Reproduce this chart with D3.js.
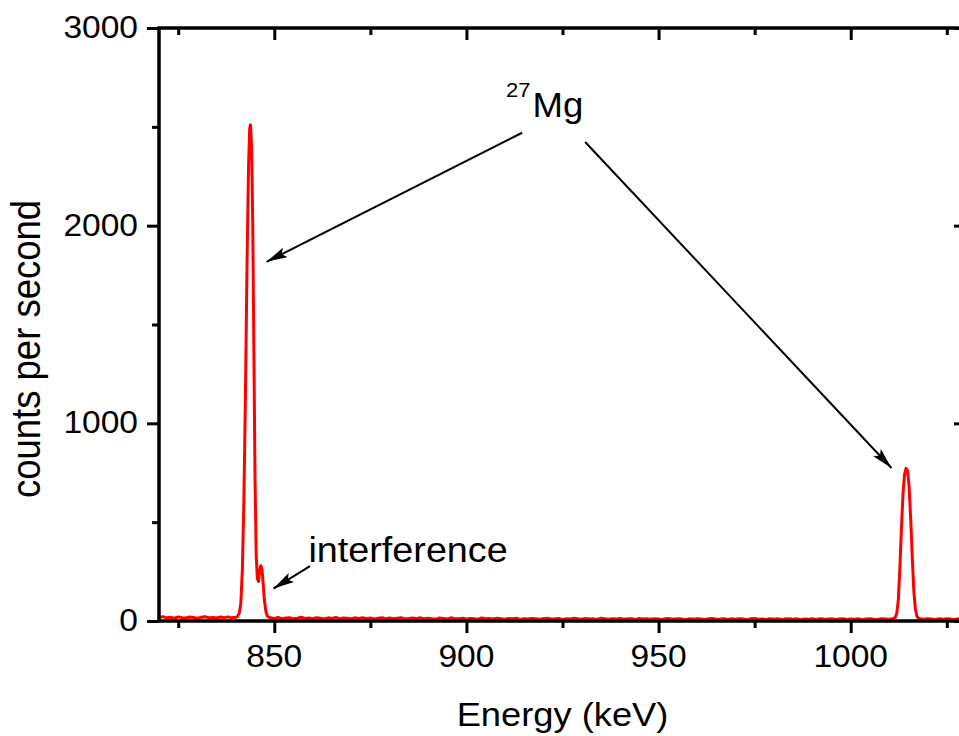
<!DOCTYPE html>
<html>
<head>
<meta charset="utf-8">
<script src="https://cdn.jsdelivr.net/npm/d3@7"></script>
<style>
  body { margin: 0; background: #fff; }
  svg { display: block; font-family: "Liberation Sans", Arial, sans-serif; }
</style>
</head>
<body>
<svg></svg>
<script>
// gamma spectrum (keV, counts per second)
let energyKeV = [
  820, 821, 822, 823, 824, 825, 826, 827, 828, 829,
  830, 831, 832, 833, 834, 835, 836, 837, 838, 839, 840,
  840.4, 840.9, 841.3, 841.7, 842.1, 842.5, 842.9, 843.3, 843.6, 843.8,
  844.1, 844.4, 844.7, 845.0, 845.3, 845.6, 845.9, 846.2, 846.5, 846.8,
  847.1, 847.4, 847.8, 848.2,
  849, 850, 851, 852, 853, 854, 855, 856, 857, 858,
  859, 860, 861, 862, 863, 864, 865, 866, 867, 868,
  869, 870, 871, 872, 873, 874, 875, 876, 877, 878,
  879, 880, 881, 882, 883, 884, 885, 886, 887, 888,
  889, 890, 891, 892, 893, 894, 895, 896, 897, 898,
  899, 900, 901, 902, 903, 904, 905, 906, 907, 908,
  909, 910, 911, 912, 913, 914, 915, 916, 917, 918,
  919, 920, 921, 922, 923, 924, 925, 926, 927, 928,
  929, 930, 931, 932, 933, 934, 935, 936, 937, 938,
  939, 940, 941, 942, 943, 944, 945, 946, 947, 948,
  949, 950, 951, 952, 953, 954, 955, 956, 957, 958,
  959, 960, 961, 962, 963, 964, 965, 966, 967, 968,
  969, 970, 971, 972, 973, 974, 975, 976, 977, 978,
  979, 980, 981, 982, 983, 984, 985, 986, 987, 988,
  989, 990, 991, 992, 993, 994, 995, 996, 997, 998,
  999, 1000, 1001, 1002, 1003, 1004, 1005, 1006, 1007, 1008,
  1009, 1010, 1011,
  1011.6, 1012.0, 1012.4, 1012.8, 1013.2, 1013.6, 1014.0, 1014.4,
  1014.8, 1015.2, 1015.6, 1016.0, 1016.4, 1016.8, 1017.2, 1017.6,
  1018, 1019, 1020, 1021, 1022, 1023, 1024, 1025, 1026, 1027, 1028, 1029, 1030
];
let countsPerSecond = [
  18, 22, 16, 19, 14, 21, 17, 15, 20, 18,
  13, 19, 22, 16, 18, 15, 20, 17, 21, 16, 19,
  22, 40, 90, 260, 620, 1150, 1800, 2300, 2490, 2510,
  2400, 2000, 1350, 700, 330, 215, 200, 255, 280, 262,
  190, 110, 50, 24,
  16, 13, 18, 12, 15, 17, 11, 14, 19, 13,
  15, 12, 17, 14, 10, 16, 13, 18, 12, 15,
  14, 11, 16, 13, 17, 12, 15, 10, 14, 16,
  12, 15, 11, 14, 17, 10, 13, 15, 12, 16,
  11, 14, 12, 9, 15, 13, 10, 16, 12, 11,
  14, 10, 13, 12, 9, 15, 11, 13, 10, 14,
  12, 9, 13, 11, 14, 8, 12, 10, 13, 11,
  9, 12, 14, 10, 11, 13, 8, 12, 10, 14,
  11, 9, 13, 10, 12, 8, 14, 11, 9, 12,
  10, 13, 9, 11, 12, 8, 13, 10, 11, 9,
  12, 10, 8, 13, 11, 9, 12, 10, 7, 11,
  9, 12, 10, 8, 11, 13, 9, 10, 12, 8,
  11, 9, 12, 10, 7, 11, 13, 9, 10, 8,
  12, 9, 11, 8, 10, 12, 9, 11, 7, 10,
  9, 11, 8, 12, 10, 9, 11, 8, 10, 12,
  8, 10, 9, 11, 7, 10, 12, 9, 8, 11,
  10, 9, 12,
  18, 40, 110, 270, 470, 640, 740, 772,
  760, 680, 520, 330, 160, 65, 25, 14,
  11, 9, 12, 10, 8, 11, 9, 12, 10, 8, 11, 9, 10
];

let xMajorTicks = [850, 900, 950, 1000];
let xMinorTicks = [825, 875, 925, 975, 1025];
let yMajorTicks = [0, 1000, 2000, 3000];
let yMinorTicks = [500, 1500, 2500];

// annotation arrows, in data units: [keV, counts]
let arrowTails = [[914.5, 2470], [930.9, 2423], [859.3, 278]];
let arrowTips = [[848.0, 1817], [1010.6, 774], [849.8, 164]];

let width = 959;
let height = 736;
let plotLeft = 159;
let plotRight = 966; // right frame sits just past the picture edge
let plotTop = 28;
let plotBottom = 621;
let stretch = 1.1;

let svg = d3.select("svg").attr("width", width).attr("height", height);

let xScale = d3.scaleLinear().domain([820, 1030]).range([plotLeft, plotRight]);
let yScale = d3.scaleLinear().domain([0, 3000]).range([plotBottom, plotTop]);

let putText = (g, x, y, txt, size, anchor, sx = stretch) =>
  g.append("text")
    .attr("transform", "translate(" + x + "," + y + ") scale(" + sx + ",1)")
    .attr("text-anchor", anchor)
    .attr("font-size", size)
    .attr("fill", "#000")
    .text(txt);

let styleAxis = (g, w) => {
  g.select(".domain").remove();
  g.selectAll("line").attr("stroke", "#000").attr("stroke-width", w);
  g.selectAll("text").remove();
};

let drawAxes = () => {
  let frames = [
    [d3.axisBottom(xScale), "translate(0," + plotBottom + ")", xMajorTicks, xMinorTicks, 12, 7],
    [d3.axisTop(xScale), "translate(0," + plotTop + ")", xMajorTicks, xMinorTicks, -12, -7],
    [d3.axisLeft(yScale), "translate(" + plotLeft + ",0)", yMajorTicks, yMinorTicks, 12, 7],
    [d3.axisRight(yScale), "translate(" + plotRight + ",0)", yMajorTicks, yMinorTicks, -12, -7],
  ];
  frames.forEach(([axis, tr, major, minor, big, small]) => {
    svg.append("g").attr("transform", tr)
      .call(axis.tickValues(major).tickSize(big).tickFormat(""))
      .call((g) => styleAxis(g, 3));
    svg.append("g").attr("transform", tr)
      .call(axis.tickValues(minor).tickSize(small).tickFormat(""))
      .call((g) => styleAxis(g, 3));
  });

  svg.append("rect")
    .attr("x", plotLeft).attr("y", plotTop)
    .attr("width", plotRight - plotLeft).attr("height", plotBottom - plotTop)
    .attr("fill", "none").attr("stroke", "#000").attr("stroke-width", 3.5);

  let labels = svg.append("g");
  xMajorTicks.forEach((t) => putText(labels, xScale(t), 667, t, 30.5, "middle"));
  yMajorTicks.forEach((t) => putText(labels, 138, yScale(t) + 10, t, 30.5, "end"));

  putText(labels, (plotLeft + plotRight) / 2, 726, "Energy (keV)", 33, "middle");
  labels.append("text")
    .attr("transform", "translate(40,349) scale(" + stretch + ",1) rotate(-90)")
    .attr("text-anchor", "middle")
    .attr("font-size", 36.5)
    .text("counts per second");
};

let drawSpectrum = () => {
  let line = d3.line()
    .x((d, i) => xScale(energyKeV[i]))
    .y((d) => yScale(d));
  svg.append("path")
    .datum(countsPerSecond)
    .attr("d", line)
    .attr("fill", "none")
    .attr("stroke", "#ff0000")
    .attr("stroke-width", 3)
    .attr("stroke-linejoin", "round");
};

let drawNotes = () => {
  svg.append("defs").append("marker")
    .attr("id", "head")
    .attr("markerUnits", "userSpaceOnUse")
    .attr("viewBox", "0 0 20 10")
    .attr("refX", 20).attr("refY", 5)
    .attr("markerWidth", 21).attr("markerHeight", 11)
    .attr("orient", "auto")
    .append("path")
    .attr("d", "M0,0 L20,5 L0,10 L4,5 Z")
    .attr("fill", "#000");

  arrowTails.forEach((a, i) => {
    svg.append("line")
      .attr("x1", xScale(a[0])).attr("y1", yScale(a[1]))
      .attr("x2", xScale(arrowTips[i][0])).attr("y2", yScale(arrowTips[i][1]))
      .attr("stroke", "#000").attr("stroke-width", 2)
      .attr("marker-end", "url(#head)");
  });

  let notes = svg.append("g");
  putText(notes, xScale(910.3), yScale(2652), "27", 21, "start", 1.05);
  putText(notes, xScale(917.2), yScale(2550), "Mg", 35.5, "start", 1.03);
  putText(notes, xScale(858.9), yScale(298), "interference", 34.3, "start");
};

drawSpectrum();
drawAxes();
drawNotes();
</script>
</body>
</html>
